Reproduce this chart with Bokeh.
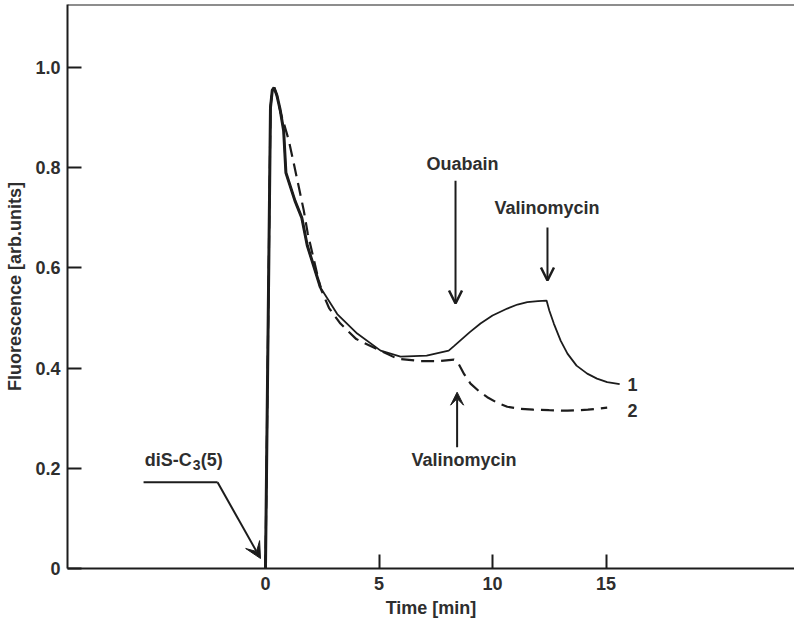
from bokeh.plotting import figure
from bokeh.models import Range1d, FixedTicker, Arrow, VeeHead, OpenHead, Label, Span
from bokeh.embed import file_html
from bokeh.resources import INLINE

# ---- data ----
# curve 1 (solid): ouabain added ~8 min, valinomycin ~12.4 min
time_1 = [0.0, 0.12, 0.22, 0.3, 0.38, 0.5, 0.65, 0.8, 0.9, 1.3, 1.6, 1.84, 2.42,
          3.16, 4.04, 5.07, 5.95, 7.1, 8.07, 8.3, 8.6, 9.0, 9.47, 10.0, 10.65,
          11.1, 11.53, 12.0, 12.38, 12.5, 12.7, 13.0, 13.3, 13.7, 14.17, 14.6,
          15.05, 15.6]
fluor_1 = [0.0, 0.5, 0.92, 0.955, 0.96, 0.945, 0.915, 0.874, 0.79, 0.734, 0.70,
           0.645, 0.561, 0.508, 0.469, 0.435, 0.423, 0.425, 0.435, 0.444, 0.456,
           0.472, 0.489, 0.505, 0.519, 0.527, 0.532, 0.534, 0.535, 0.515, 0.489,
           0.455, 0.429, 0.405, 0.389, 0.379, 0.372, 0.368]
# curve 2 (dashed): valinomycin added ~8.4 min
time_2 = [0.0, 0.12, 0.22, 0.3, 0.38, 0.5, 0.66, 0.88, 1.03, 1.25, 1.47, 1.69,
          1.86, 2.42, 2.8, 3.3, 4.0, 4.77, 5.8, 6.83, 7.6, 8.3, 8.5, 8.75, 9.03,
          9.4, 9.77, 10.2, 10.65, 11.2, 11.8, 12.5, 13.3, 14.2, 15.05]
fluor_2 = [0.0, 0.5, 0.92, 0.955, 0.96, 0.945, 0.911, 0.878, 0.854, 0.808, 0.761,
           0.714, 0.669, 0.56, 0.52, 0.489, 0.458, 0.441, 0.419, 0.414, 0.414,
           0.417, 0.409, 0.388, 0.369, 0.354, 0.342, 0.331, 0.323, 0.319, 0.317,
           0.316, 0.315, 0.317, 0.321]
curve_names = ["1", "2"]
x_ticks = [0, 5, 10, 15]
y_ticks = [0, 0.2, 0.4, 0.6, 0.8, 1.0]
y_tick_labels = ["0", "0.2", "0.4", "0.6", "0.8", "1.0"]

# annotation anchors in data units (time, fluorescence)
ouabain_arrow = (8.37, 0.774, 8.37, 0.529)
valino1_arrow = (12.42, 0.681, 12.42, 0.575)
valino2_arrow = (8.44, 0.242, 8.44, 0.352)
dis_path_x = [-5.37, -2.11]
dis_path_y = [0.172, 0.172]
dis_arrow = (-2.11, 0.172, -0.22, 0.02)

X_START, X_END = -8.72, 23.3
Y_START, Y_END = 0.0, 1.126

FONT = "Liberation Sans"
INK = "#1c1c1c"
TXT = "#2e2e2e"
FS = "18px"

p = figure(width=794, height=621,
           x_range=Range1d(X_START, X_END), y_range=Range1d(Y_START, Y_END),
           output_backend="svg", toolbar_location=None,
           min_border_left=67, min_border_right=0, min_border_top=4,
           min_border_bottom=53)
p.outline_line_color = None
p.grid.visible = False
p.background_fill_color = "white"
p.border_fill_color = "white"

for ax in (p.xaxis[0], p.yaxis[0]):
    ax.axis_line_width = 2
    ax.axis_line_color = INK
    ax.major_tick_in = 14
    ax.major_tick_out = 0
    ax.major_tick_line_width = 2
    ax.major_tick_line_color = INK
    ax.minor_tick_line_color = None
    ax.major_label_text_font = FONT
    ax.major_label_text_font_style = "bold"
    ax.major_label_text_font_size = FS
    ax.major_label_text_color = TXT
    ax.axis_label_text_font = FONT
    ax.axis_label_text_font_style = "bold"
    ax.axis_label_text_font_size = FS
    ax.axis_label_text_color = TXT

p.xaxis.ticker = FixedTicker(ticks=x_ticks)
p.xaxis.axis_label = "Time [min]"
p.xaxis.major_label_standoff = 8
p.xaxis.axis_label_standoff = 5

p.yaxis.ticker = FixedTicker(ticks=y_ticks)
p.yaxis.major_label_overrides = {t: s for t, s in zip(y_ticks, y_tick_labels)}
p.yaxis.axis_label = "Fluorescence [arb.units]"
p.yaxis.major_label_standoff = 7
p.yaxis.axis_label_standoff = 7

# top border line
p.add_layout(Span(location=Y_END, dimension="width", line_color=INK, line_width=2))

# curves
p.line(time_2, fluor_2, line_color=INK, line_width=2.2, line_dash="13 7")
p.line(time_1, fluor_1, line_color=INK, line_width=1.8)
p.line(time_1[:13], fluor_1[:13], line_color=INK, line_width=3)

# curve labels
p.add_layout(Label(x=time_1[-1] + 0.35, y=fluor_1[-1], text=curve_names[0],
                   text_font=FONT, text_font_style="bold", text_font_size=FS,
                   text_color=TXT, text_baseline="middle", text_align="left"))
p.add_layout(Label(x=time_1[-1] + 0.35, y=fluor_2[-1] - 0.006, text=curve_names[1],
                   text_font=FONT, text_font_style="bold", text_font_size=FS,
                   text_color=TXT, text_baseline="middle", text_align="left"))

def lab(x, y, t, align="center", size=FS, xo=0, yo=0):
    p.add_layout(Label(x=x, y=y, text=t, text_font=FONT, text_font_style="bold",
                       text_font_size=size, text_color=TXT, x_offset=xo, y_offset=yo,
                       text_baseline="middle", text_align=align))

def arrow(c, head):
    p.add_layout(Arrow(end=head, x_start=c[0], y_start=c[1], x_end=c[2], y_end=c[3],
                       line_color=INK, line_width=2))

arrow(ouabain_arrow, OpenHead(size=13, line_width=2.5, line_color=INK))
arrow(valino1_arrow, OpenHead(size=13, line_width=2.5, line_color=INK))
arrow(valino2_arrow, VeeHead(size=13, fill_color=INK, line_color=INK))
lab(8.68, 0.808, "Ouabain")
lab(12.4, 0.719, "Valinomycin")
lab(8.74, 0.216, "Valinomycin")

p.line(dis_path_x, dis_path_y, line_color=INK, line_width=2)
arrow(dis_arrow, VeeHead(size=16, fill_color=INK, line_color=INK))
lab(dis_path_x[0] + 0.05, 0.216, "diS-C", align="left")
lab(dis_path_x[0] + 0.05, 0.216, "3", align="left", size="14px", xo=48, yo=-5)
lab(dis_path_x[0] + 0.05, 0.216, "(5)", align="left", xo=56)

open("out.html", "w").write(file_html(p, INLINE))
